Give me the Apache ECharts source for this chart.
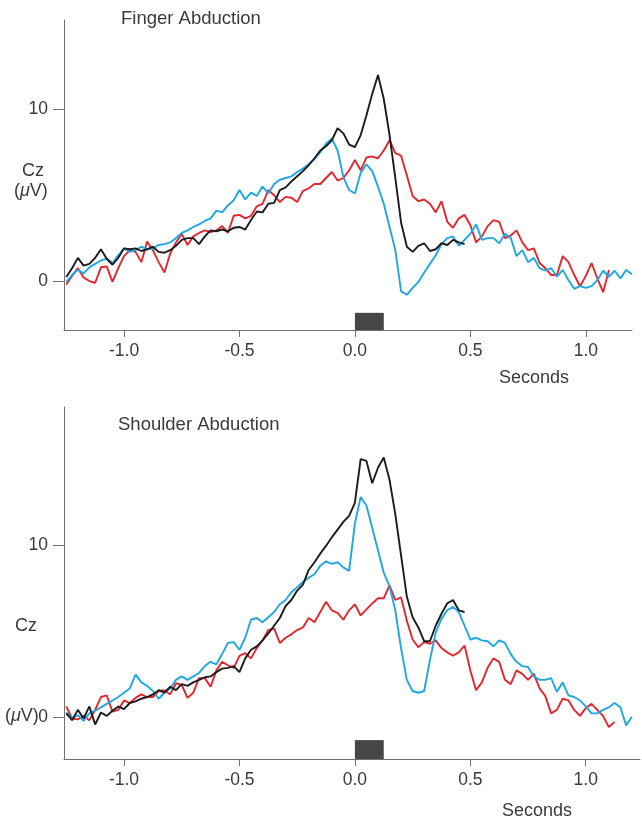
<!DOCTYPE html>
<html>
<head>
<meta charset="utf-8">
<script src="https://cdn.jsdelivr.net/npm/echarts@6/dist/echarts.min.js"></script>
<style>
  html, body { margin: 0; padding: 0; background: #fff; }
  #main { width: 642px; height: 820px; }
</style>
</head>
<body>
<div id="main"></div>
<script>
// time base (s), shared by all traces
var seconds = [-1.25,-1.225,-1.2,-1.175,-1.15,-1.125,-1.1,-1.075,-1.05,-1.025,-1.0,-0.975,-0.95,-0.925,-0.9,-0.875,-0.85,-0.825,-0.8,-0.775,-0.75,-0.725,-0.7,-0.675,-0.65,-0.625,-0.6,-0.575,-0.55,-0.525,-0.5,-0.475,-0.45,-0.425,-0.4,-0.375,-0.35,-0.325,-0.3,-0.275,-0.25,-0.225,-0.2,-0.175,-0.15,-0.125,-0.1,-0.075,-0.05,-0.025,0,0.025,0.05,0.075,0.1,0.125,0.15,0.175,0.2,0.225,0.25,0.275,0.3,0.325,0.35,0.375,0.4,0.425,0.45,0.475,0.5,0.525,0.55,0.575,0.6,0.625,0.65,0.675,0.7,0.725,0.75,0.775,0.8,0.825,0.85,0.875,0.9,0.925,0.95,0.975,1.0,1.025,1.05,1.075,1.1,1.125,1.15,1.175,1.2];

// Finger Abduction, Cz (uV)
var fingerBlack = [0.23,0.75,1.35,0.9,1.0,1.35,1.85,1.3,0.95,1.35,1.9,
  1.85,1.9,1.75,1.85,2.0,1.7,1.65,1.8,2.05,2.4,
  2.5,2.5,2.15,2.6,2.95,2.9,3.0,2.9,3.1,3.15,
  3.0,3.55,4.05,4.0,4.5,4.55,5.3,5.45,5.8,6.1,
  6.4,6.75,7.15,7.6,7.85,8.2,8.9,8.6,7.95,7.8,
  8.5,9.65,10.9,12.0,10.6,8.5,6.0,3.4,2.0,1.7,
  2.05,2.2,1.75,1.85,2.2,2.1,2.4,2.25,2.15];
var fingerRed = [-0.2,0.3,0.75,0.2,0.0,-0.1,0.8,0.85,-0.05,0.75,1.45,
  1.8,1.7,1.1,2.3,1.8,1.1,0.5,1.6,2.25,2.75,
  2.1,2.6,2.8,2.95,2.85,2.95,3.2,2.8,3.8,3.85,
  3.65,3.8,4.35,4.5,5.3,5.0,4.6,4.9,4.85,4.6,
  5.25,5.4,5.65,5.65,6.0,6.35,5.85,6.0,6.45,7.05,
  6.45,7.2,7.25,7.15,7.6,8.2,7.45,7.3,6.15,4.95,
  4.65,4.75,4.5,4.0,4.65,3.45,3.1,3.65,3.85,3.25,
  2.25,2.6,3.2,3.55,3.45,2.5,2.65,2.95,2.25,1.8,
  1.9,1.05,0.75,0.35,0.35,1.45,1.1,0.35,-0.3,0.3,
  1.05,0.15,-0.65,0.65];
var fingerBlue = [-0.05,0.35,0.65,0.45,0.8,1.0,1.2,1.3,1.05,1.5,1.9,
  1.7,1.8,2.0,1.85,1.9,2.1,2.15,2.25,2.5,2.8,
  2.95,3.15,3.3,3.5,3.65,4.1,4.0,4.4,4.7,5.3,
  4.75,5.15,4.95,5.5,5.1,5.65,5.9,6.0,6.1,6.35,
  6.55,6.8,7.1,7.5,8.0,8.3,7.6,6.05,5.3,5.1,
  6.3,6.8,6.4,5.5,4.5,3.15,1.8,-0.6,-0.8,-0.4,
  -0.05,0.5,1.0,1.5,2.15,2.5,2.6,2.05,2.4,2.75,
  3.3,2.4,2.5,2.5,2.2,2.75,2.5,1.45,1.8,1.1,
  1.35,0.75,0.6,0.75,0.25,0.65,0.05,-0.45,-0.3,-0.4,
  -0.3,0.05,0.6,0.25,0.6,0.15,0.65,0.4];

// Shoulder Abduction, Cz (uV)
var shoulderBlack = [0.2,-0.2,0.4,-0.1,0.6,-0.45,0.25,0.05,0.35,0.6,0.45,
  0.8,0.9,1.05,1.15,1.3,1.55,1.4,1.75,1.55,1.9,
  1.8,2.0,2.15,2.3,2.35,2.6,2.8,2.85,2.95,2.6,
  3.4,3.9,4.1,4.45,4.85,5.3,5.75,6.45,6.8,7.35,
  7.7,8.55,9.0,9.5,9.95,10.45,10.9,11.35,11.7,12.45,
  15.0,14.9,13.6,14.5,15.1,13.8,11.8,9.4,7.0,5.8,
  5.2,4.4,4.4,5.3,6.0,6.6,6.8,6.2,6.1];
var shoulderRed = [0.6,-0.1,-0.15,0.05,-0.2,0.4,1.15,1.25,0.3,0.4,0.95,
  0.8,1.1,1.3,1.15,1.15,1.5,1.55,1.3,1.95,1.85,
  1.1,1.4,2.25,2.25,1.75,2.7,3.2,3.0,2.85,3.55,
  3.7,3.4,4.0,4.45,5.05,5.15,4.3,4.6,4.8,5.05,
  5.2,5.75,5.5,6.1,6.7,6.2,6.05,5.65,6.2,6.55,
  5.9,6.25,6.6,6.9,6.9,7.65,6.8,6.95,5.6,4.5,
  4.05,4.35,4.25,4.45,4.0,3.75,3.55,3.75,4.15,2.7,
  1.55,2.0,2.85,3.4,3.2,2.15,1.9,2.7,2.5,2.15,
  2.5,1.65,1.2,0.2,0.4,1.05,0.95,0.4,0.05,0.5,
  0.75,0.4,0.05,-0.6,-0.3];
var shoulderBlue = [0.25,-0.1,0.1,-0.25,0.2,0.35,0.55,0.75,0.95,1.15,1.4,
  1.65,2.45,2.0,1.8,1.5,1.05,1.4,1.65,2.15,2.35,
  2.15,2.35,2.55,2.95,3.2,3.05,3.65,4.3,4.35,3.9,
  4.6,5.65,5.75,5.5,5.8,6.1,6.55,6.8,7.25,7.55,
  7.85,8.1,8.3,8.8,9.05,8.9,9.0,8.7,8.5,11.25,
  12.8,12.3,11.0,9.7,8.4,7.6,6.2,4.0,2.15,1.5,
  1.4,1.5,3.3,4.9,5.7,6.2,6.4,6.1,5.3,4.5,
  4.6,4.45,4.4,4.1,4.45,4.3,3.65,3.2,2.95,2.9,
  2.35,2.15,2.15,2.25,1.45,2.0,1.25,1.15,0.95,0.6,
  0.2,0.2,0.4,0.55,0.8,0.55,-0.5,0.0];

// stimulus window (s)
var stimWindow = [0, 0.125];
var xTicks = [-1.0, -0.5, 0.0, 0.5, 1.0];
var yTicks = [0, 10];

var txt = '#3a3a3a';
var axisCol = '#707070';
var font = 'Liberation Sans, Arial, Helvetica, sans-serif';
var colors = { black: '#1c1c1c', red: '#e3262e', blue: '#1ea7e1' };

function pairs(vals) {
  return vals.map(function (v, i) { return [seconds[i], v]; });
}

function xAxisCfg(gi, max) {
  return {
    type: 'value', gridIndex: gi, min: -1.26, max: max,
    axisLine: { show: true, onZero: false, lineStyle: { color: axisCol, width: 1 } },
    axisTick: { show: true, length: 7, customValues: xTicks, lineStyle: { color: axisCol } },
    axisLabel: {
      customValues: xTicks, margin: 12, color: txt, fontSize: 17.5, fontFamily: font,
      formatter: function (v) { return v.toFixed(1); }
    },
    splitLine: { show: false }
  };
}

function yAxisCfg(gi, min, max) {
  return {
    type: 'value', gridIndex: gi, min: min, max: max,
    axisLine: { show: true, onZero: false, lineStyle: { color: axisCol, width: 1 } },
    axisTick: { show: true, length: 11, customValues: yTicks, lineStyle: { color: axisCol } },
    axisLabel: { customValues: yTicks, margin: 16, color: txt, fontSize: 17.5, fontFamily: font },
    splitLine: { show: false }
  };
}

function trace(gi, vals, col, bar, yMin, barH) {
  var s = {
    type: 'line', xAxisIndex: gi, yAxisIndex: gi,
    data: pairs(vals), showSymbol: false, symbol: 'none',
    lineStyle: { color: col, width: 1.9 }, itemStyle: { color: col },
    animation: false, silent: true
  };
  if (bar) {
    s.markArea = {
      silent: true,
      itemStyle: { color: '#464646' },
      data: [[{ coord: [stimWindow[0], yMin] }, { coord: [stimWindow[1], yMin + barH] }]]
    };
  }
  return s;
}

var myChart = echarts.init(document.getElementById('main'));

var option = {
  animation: false,
  grid: [
    { left: 64, top: 20, right: 10, height: 310, outerBoundsMode: 'none' },
    { left: 64, top: 407, right: 2, height: 352, outerBoundsMode: 'none' }
  ],
  xAxis: [xAxisCfg(0, 1.2), xAxisCfg(1, 1.235)],
  yAxis: [yAxisCfg(0, -2.85, 15.2), yAxisCfg(1, -2.46, 18.04)],
  series: [
    trace(0, fingerRed, colors.red, true, -2.85, 1.0),
    trace(0, fingerBlue, colors.blue),
    trace(0, fingerBlack, colors.black),
    trace(1, shoulderRed, colors.red, true, -2.46, 1.1),
    trace(1, shoulderBlue, colors.blue),
    trace(1, shoulderBlack, colors.black)
  ],
  graphic: [
    { type: 'text', left: 121, top: 9, style: { text: 'Finger Abduction', fill: txt, fontSize: 18.5, fontFamily: font } },
    { type: 'text', left: 118, top: 415, style: { text: 'Shoulder Abduction', fill: txt, fontSize: 18.5, fontFamily: font } },
    { type: 'text', left: 499, top: 369, style: { text: 'Seconds', fill: txt, fontSize: 18, fontFamily: font } },
    { type: 'text', left: 502, top: 802, style: { text: 'Seconds', fill: txt, fontSize: 18, fontFamily: font } },
    { type: 'text', left: 22, top: 162, style: { text: 'Cz', fill: txt, fontSize: 18, fontFamily: font } },
    { type: 'text', left: 14, top: 182, style: { text: '({i|μ}V)', fill: txt, fontSize: 18, fontFamily: font,
        rich: { i: { fontStyle: 'italic', fontSize: 18, fontFamily: font, fill: txt } } } },
    { type: 'text', left: 15, top: 617, style: { text: 'Cz', fill: txt, fontSize: 18, fontFamily: font } },
    { type: 'text', left: 5, top: 707, style: { text: '({i|μ}V)', fill: txt, fontSize: 18, fontFamily: font,
        rich: { i: { fontStyle: 'italic', fontSize: 18, fontFamily: font, fill: txt } } } }
  ]
};

myChart.setOption(option);
</script>
</body>
</html>
